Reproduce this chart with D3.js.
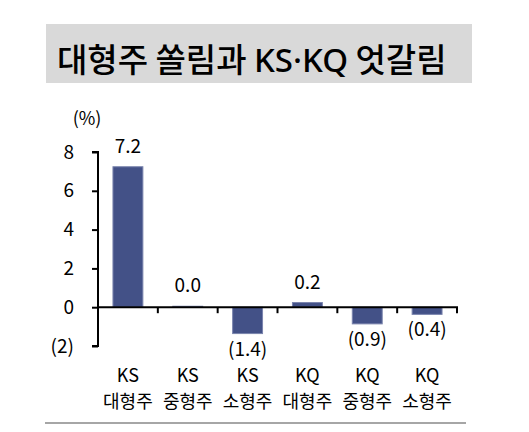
<!DOCTYPE html>
<html>
<head>
<meta charset="utf-8">
<script src="https://d3js.org/d3.v7.min.js"></script>
<style>
  body { margin: 0; background: #fff; }
  svg { font-family: "Noto Sans CJK KR", "Noto Sans", sans-serif; }
</style>
</head>
<body>
<div id="chart"></div>
<script>
const markets = ["KS", "KS", "KS", "KQ", "KQ", "KQ"];
const sizes = ["대형주", "중형주", "소형주", "대형주", "중형주", "소형주"];
const returns = [7.24, 0.049, -1.36, 0.24, -0.86, -0.37];
const yTicks = [-2, 0, 2, 4, 6, 8];

const W = 529, H = 432;
const svg = d3.select("#chart").append("svg")
  .attr("width", W).attr("height", H);

// title box
svg.append("rect")
  .attr("x", 46).attr("y", 24).attr("width", 426).attr("height", 59)
  .attr("fill", "#d9d9d9");
const title = svg.append("text")
  .attr("x", 57).attr("y", 72)
  .attr("font-size", 33).attr("font-weight", 500)
  .attr("fill", "#000");
title.append("tspan").text("대형주 쏠림과 ");
title.append("tspan").attr("font-family", "\"Noto Sans\", sans-serif").text("KS·KQ");
title.append("tspan").text(" 엇갈림");

const idx = d3.range(returns.length);
const x = d3.scaleBand().domain(idx).range([98, 457]).paddingInner(0.5).paddingOuter(0.25);
const y = d3.scaleLinear().domain([-2, 8]).range([346, 152]);

const fmt = v => v < 0 ? `(${Math.abs(v).toFixed(1)})` : v.toFixed(1);

// bars
svg.append("g").selectAll("rect").data(returns).join("rect")
  .attr("x", (d, i) => x(i))
  .attr("width", x.bandwidth())
  .attr("y", d => y(Math.max(0, d)))
  .attr("height", d => Math.abs(y(d) - y(0)))
  .attr("fill", "#435187")
  .attr("stroke", "#7a84ad")
  .attr("stroke-width", 1);

// value labels
svg.append("g").selectAll("text").data(returns).join("text")
  .attr("x", (d, i) => x(i) + x.bandwidth() / 2)
  .attr("y", d => d >= 0 ? y(d) - 14 : y(d) + 22)
  .attr("text-anchor", "middle")
  .attr("font-size", 19)
  .attr("fill", "#000")
  .text(fmt);

// y axis
const yAxis = svg.append("g")
  .attr("transform", "translate(98,0)")
  .call(d3.axisLeft(y).tickValues(yTicks).tickSize(6).tickPadding(18)
    .tickFormat(v => v < 0 ? `(${Math.abs(v)})` : v));
yAxis.select(".domain").attr("stroke", "#000").attr("stroke-width", 2)
  .attr("d", `M-6,${y(8)}H0V${y(-2)}H-6`);
yAxis.selectAll(".tick line").attr("stroke-width", 2);
yAxis.selectAll(".tick text").attr("font-size", 19).attr("fill", "#000")
  .attr("font-family", "\"Noto Sans CJK KR\", sans-serif");

svg.append("text")
  .attr("x", 87).attr("y", 125)
  .attr("text-anchor", "middle")
  .attr("font-size", 18).attr("fill", "#000")
  .text("(%)");

// x axis at zero
const xEdges = idx.map(i => x(i) + x.step() * 0.75);
const xAxis = svg.append("g");
xAxis.append("line")
  .attr("x1", 98).attr("x2", 458)
  .attr("y1", y(0)).attr("y2", y(0))
  .attr("stroke", "#000").attr("stroke-width", 2);
xAxis.selectAll("line.tk").data(xEdges).join("line")
  .attr("class", "tk")
  .attr("x1", d => d).attr("x2", d => d)
  .attr("y1", y(0)).attr("y2", y(0) + 6)
  .attr("stroke", "#000").attr("stroke-width", 2);

// category labels
const cat = svg.append("g").selectAll("text").data(idx).join("text")
  .attr("x", i => x(i) + x.bandwidth() / 2)
  .attr("text-anchor", "middle")
  .attr("font-size", 18)
  .attr("fill", "#000");
cat.append("tspan").attr("x", i => x(i) + x.bandwidth() / 2).attr("y", 382).text(i => markets[i]);
cat.append("tspan").attr("x", i => x(i) + x.bandwidth() / 2).attr("y", 408).text(i => sizes[i]);

// bottom rule
svg.append("line")
  .attr("x1", 45).attr("x2", 466).attr("y1", 423).attr("y2", 423)
  .attr("stroke", "#a6a6a6").attr("stroke-width", 2);
</script>
</body>
</html>
